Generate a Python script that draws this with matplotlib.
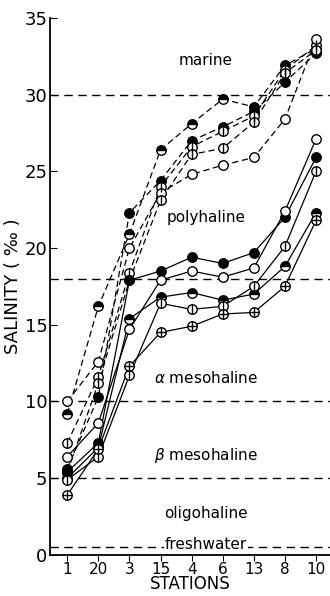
import numpy as np
import matplotlib
matplotlib.use("Agg")
import matplotlib.pyplot as plt

# stations along the estuary, in plotting order
stations = ['1', '20', '3', '15', '4', '6', '13', '8', '10']

# upper (dashed) series
dash_half   = [9.2, 16.2, 20.9, 26.4, 28.1, 29.7, 29.2, 31.9, 33.0]
dash_filled = [5.6, 10.3, 22.3, 24.4, 27.0, 27.9, 28.9, 30.8, 32.7]
dash_bar1   = [7.3, 11.6, 18.4, 24.0, 26.6, 27.6, 28.6, 31.6, 33.2]
dash_open   = [10.0, 12.6, 20.0, 23.6, 24.8, 25.4, 25.9, 28.4, 33.6]
dash_bar2   = [5.4, 11.2, 17.9, 23.1, 26.1, 26.5, 28.2, 31.4, 32.9]

# lower (solid) series
sol_filled = [5.4, 7.3, 17.9, 18.5, 19.4, 19.0, 19.7, 22.0, 25.9]
sol_open   = [6.4, 8.6, 14.7, 17.9, 18.5, 18.1, 18.7, 22.4, 27.1]
sol_half   = [5.0, 7.0, 15.4, 16.8, 17.1, 16.6, 17.0, 18.8, 22.3]
sol_bar    = [4.9, 6.4, 11.7, 16.4, 16.0, 16.2, 17.5, 20.1, 25.0]
sol_cross  = [3.9, 6.9, 12.3, 14.5, 14.9, 15.7, 15.8, 17.5, 21.8]

zone_lines = [30, 18, 10, 5, 0.5]
zone_names = ['marine', 'polyhaline', r'$\alpha$ mesohaline', r'$\beta$ mesohaline', 'oligohaline', 'freshwater']
zone_label_y = [32.2, 22.0, 11.5, 6.5, 2.7, 0.7]

series = [
    (dash_half, 'half', (0, (5, 3))),
    (dash_filled, 'filled', (0, (5, 3))),
    (dash_bar1, 'bar', (0, (5, 3))),
    (dash_open, 'open', (0, (5, 3))),
    (dash_bar2, 'bar', (0, (5, 3))),
    (sol_filled, 'filled', '-'),
    (sol_open, 'open', '-'),
    (sol_half, 'half', '-'),
    (sol_bar, 'bar', '-'),
    (sol_cross, 'cross', '-'),
]

fig = plt.figure(figsize=(3.3, 5.96), dpi=100)
ax = fig.add_axes([0.152, 0.069, 0.848, 0.901])

x = np.arange(len(stations))
ms = 6.8
for vals, kind, ls in series:
    ax.plot(x, vals, color='black', lw=0.9, ls=ls, zorder=2)
    if kind == 'filled':
        ax.plot(x, vals, 'o', ms=ms, mfc='black', mec='black', mew=1, zorder=3)
    elif kind == 'half':
        ax.plot(x, vals, 'o', ms=ms, fillstyle='top', mfc='black',
                markerfacecoloralt='white', mec='black', mew=1, zorder=3)
    else:
        ax.plot(x, vals, 'o', ms=ms, mfc='white', mec='black', mew=1, zorder=3)
        if kind == 'bar':
            ax.plot(x, vals, '|', ms=ms, mec='black', mew=1, zorder=4)
        elif kind == 'cross':
            ax.plot(x, vals, '+', ms=ms, mec='black', mew=1, zorder=4)

for yv in zone_lines:
    ax.axhline(yv, color='black', lw=1, ls=(0, (6, 4)), zorder=1)

for name, yv in zip(zone_names, zone_label_y):
    kw = {}
    if name == 'freshwater':
        kw['bbox'] = dict(facecolor='white', edgecolor='none', pad=0.5)
    ax.text(4.45, yv, name, ha='center', va='center', fontsize=11, zorder=5, **kw)

ax.set_xlim(-0.55, 8.45)
ax.set_ylim(0, 35)
ax.set_xticks(x)
ax.set_xticklabels(stations, fontsize=11)
ax.set_yticks(range(0, 36, 5))
ax.tick_params(axis='y', direction='in', length=5, labelsize=13, pad=2)
ax.tick_params(axis='x', direction='out', length=4, pad=1)
ax.spines['top'].set_visible(False)
ax.spines['right'].set_visible(False)
ax.spines['left'].set_linewidth(1.3)
ax.spines['bottom'].set_linewidth(1.3)
ax.set_xlabel('STATIONS', fontsize=12, labelpad=-1)
ax.set_ylabel('SALINITY ( ‰ )', fontsize=13, labelpad=2)

fig.savefig('out.png', dpi=100)
